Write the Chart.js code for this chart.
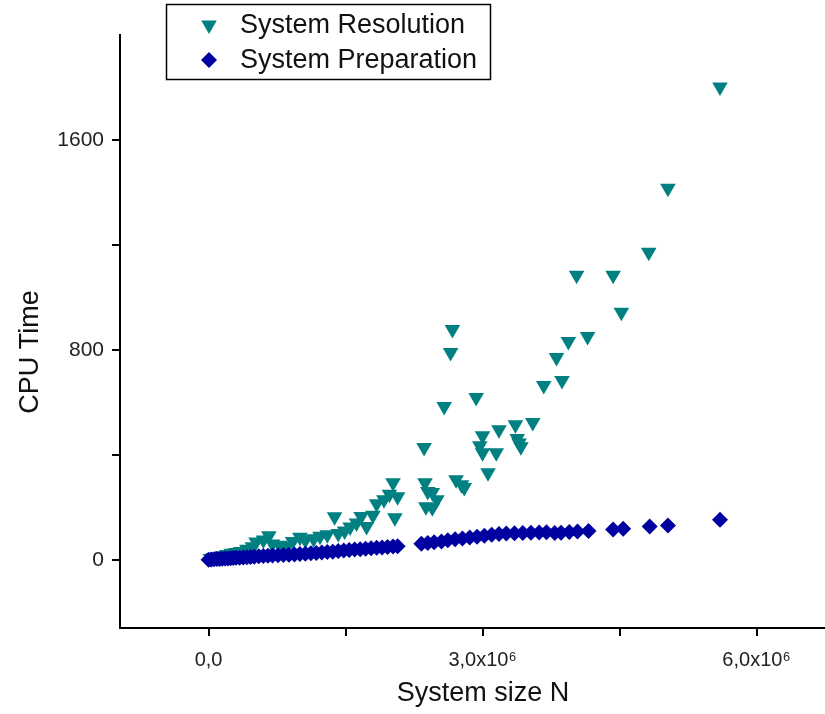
<!DOCTYPE html>
<html lang="en">

<head>
  <meta charset="UTF-8">
  <title>CPU Time vs System size</title>
  <style>
    body { margin: 0; background: #fff; overflow: hidden; }
    canvas { display: block; }
  </style>
</head>

<body>
  <canvas id="grafico1" width="825" height="714"></canvas>

  <script src="https://cdn.jsdelivr.net/npm/chart.js"></script>

  <script>
    // System Resolution (triangles)
    const resX = [0.02e6, 0.05e6, 0.10e6, 0.15e6, 0.20e6, 0.25e6, 0.30e6, 0.35e6, 0.42e6, 0.48e6,
      0.52e6, 0.60e6, 0.66e6, 0.70e6, 0.78e6, 0.85e6, 0.92e6, 1.00e6, 1.06e6, 1.15e6,
      1.22e6, 1.30e6, 1.38e6, 1.42e6, 1.49e6, 1.55e6, 1.62e6, 1.67e6, 1.73e6, 1.80e6,
      1.84e6, 1.92e6, 1.98e6, 2.02e6, 2.04e6, 2.07e6,
      2.36e6, 2.37e6, 2.40e6, 2.45e6, 2.50e6, 2.38e6, 2.45e6, 2.58e6, 2.65e6, 2.67e6,
      2.71e6, 2.77e6, 2.80e6, 2.93e6, 2.97e6, 3.00e6, 3.00e6, 3.06e6, 3.15e6, 3.18e6,
      3.36e6, 3.38e6, 3.42e6, 3.40e6, 3.55e6, 3.67e6, 3.81e6, 3.87e6, 3.94e6, 4.03e6,
      4.15e6, 4.43e6, 4.52e6, 4.82e6, 5.03e6, 5.60e6]
    const resY = [5, 8, 12, 15, 20, 25, 28, 32, 40, 50,
      68, 75, 92, 60, 55, 52, 70, 86, 75, 80,
      90, 95, 164, 100, 110, 125, 140, 165, 127, 170,
      214, 229, 250, 294, 160, 240,
      428, 294, 260, 256, 229, 202, 198, 584, 790, 878,
      305, 286, 275, 618, 435, 473, 408, 332, 408, 496,
      515, 462, 431, 445, 523, 664, 771, 683, 832, 1084,
      851, 1084, 943, 1172, 1416, 1802]

    // System Preparation (diamonds)
    const prepX = [0.00e6, 0.03e6, 0.06e6, 0.09e6, 0.12e6, 0.15e6, 0.18e6, 0.21e6, 0.24e6, 0.27e6,
      0.30e6, 0.34e6, 0.38e6, 0.42e6, 0.46e6, 0.50e6, 0.55e6, 0.60e6, 0.65e6, 0.70e6,
      0.76e6, 0.82e6, 0.88e6, 0.94e6, 1.00e6, 1.06e6, 1.12e6, 1.18e6, 1.24e6, 1.30e6,
      1.36e6, 1.42e6, 1.48e6, 1.54e6, 1.60e6, 1.66e6, 1.72e6, 1.78e6, 1.84e6, 1.90e6,
      1.96e6, 2.02e6, 2.07e6,
      2.33e6, 2.40e6, 2.47e6, 2.55e6, 2.62e6, 2.70e6, 2.78e6, 2.86e6, 2.94e6, 3.02e6,
      3.10e6, 3.18e6, 3.26e6, 3.35e6, 3.44e6, 3.53e6, 3.62e6, 3.70e6, 3.79e6, 3.86e6,
      3.95e6, 4.04e6, 4.16e6, 4.43e6, 4.54e6, 4.83e6, 5.03e6, 5.60e6]
    const prepY = [0, 1, 2, 3, 3, 4, 5, 5, 6, 7,
      8, 8, 9, 10, 11, 12, 13, 14, 15, 16,
      17, 18, 19, 20, 22, 23, 25, 26, 28, 30,
      31, 33, 35, 37, 39, 40, 42, 44, 46, 47,
      49, 51, 52,
      61, 64, 67, 70, 74, 78, 81, 85, 88, 92,
      95, 98, 100, 101, 102, 103, 104, 105, 102, 103,
      106, 108, 110, 115, 118, 127, 131, 153]

    const xTickValues = [0, 1.5e6, 3e6, 4.5e6, 6e6]
    const xTickLabels = ['0,0', '', '3,0x10⁶', '', '6,0x10⁶']
    const yTickValues = [0, 400, 800, 1200, 1600]
    const yTickLabels = ['0', '', '800', '', '1600']
    const tituloX = 'System size N'
    const tituloY = 'CPU Time'

    const corTri = '#008080'
    const corDia = '#0000a0'
    const fonte = 'Arial, "Liberation Sans", sans-serif'

    let pontos = (xs, ys) => xs.map((x, i) => ({ x: x, y: ys[i] }))

    // legenda com borda e titulos dos eixos, desenhados dentro do canvas
    const legendaBox = {
      id: 'legendaBox',
      afterDraw(chart) {
        const c = chart.ctx
        c.save()
        c.strokeStyle = '#000'
        c.lineWidth = 1.5
        c.strokeRect(166.5, 4.5, 324, 75)
        c.font = '27px ' + fonte
        c.textBaseline = 'middle'
        chart.data.datasets.forEach((ds, i) => {
          const y = i === 0 ? 25 : 60
          const x = 209
          const r = ds.pointRadius
          c.fillStyle = ds.backgroundColor
          c.beginPath()
          if (ds.pointStyle === 'triangle') {
            c.moveTo(x, y + r)
            c.lineTo(x - r * 0.866, y - r * 0.5)
            c.lineTo(x + r * 0.866, y - r * 0.5)
          } else {
            c.moveTo(x, y - r)
            c.lineTo(x + r, y)
            c.lineTo(x, y + r)
            c.lineTo(x - r, y)
          }
          c.closePath()
          c.fill()
          c.fillStyle = '#111'
          c.textAlign = 'left'
          c.fillText(ds.label, 240, y + 1)
        })

        // titulos
        c.fillStyle = '#111'
        c.font = '27px ' + fonte
        c.textAlign = 'center'
        c.fillText(tituloX, 483, 694)
        c.translate(31, 352)
        c.rotate(-Math.PI / 2)
        c.fillText(tituloY, 0, 0)
        c.restore()
      }
    }

    const ctx = document.getElementById('grafico1')

    let grafico1 = new Chart(ctx, {
      type: 'scatter',
      data: {
        datasets: [{
          label: 'System Resolution',
          data: pontos(resX, resY),
          pointStyle: 'triangle',
          rotation: 180,
          pointRadius: 9,
          backgroundColor: corTri,
          borderColor: corTri,
          borderWidth: 0,
          order: 1
        }, {
          label: 'System Preparation',
          data: pontos(prepX, prepY),
          pointStyle: 'rectRot',
          pointRadius: 8,
          backgroundColor: corDia,
          borderColor: corDia,
          borderWidth: 0,
          order: 0
        }]
      },
      options: {
        responsive: false,
        animation: false,
        layout: { autoPadding: false, padding: { top: 35, right: 0, left: 0, bottom: 0 } },
        plugins: {
          legend: { display: false },
          tooltip: { enabled: false }
        },
        scales: {
          x: {
            type: 'linear',
            min: -0.97e6,
            max: 6.75e6,
            afterBuildTicks: s => { s.ticks = xTickValues.map(v => ({ value: v })) },
            afterFit: s => {
              s.height = 86
              s.paddingLeft = 0
              s.paddingRight = 0
            },
            border: { display: true, color: '#000', width: 2 },
            grid: { drawOnChartArea: false, drawTicks: true, tickLength: 8, color: '#000', lineWidth: 2 },
            ticks: {
              autoSkip: false,
              maxRotation: 0,
              padding: 12,
              color: '#222',
              font: { family: fonte, size: 20 },
              callback: (v, i) => xTickLabels[i]
            }
          },
          y: {
            min: -260,
            max: 2000,
            afterBuildTicks: s => { s.ticks = yTickValues.map(v => ({ value: v })) },
            afterFit: s => {
              s.width = 120
              s.paddingTop = 0
              s.paddingBottom = 0
            },
            border: { display: true, color: '#000', width: 2 },
            grid: { drawOnChartArea: false, drawTicks: true, tickLength: 8, color: '#000', lineWidth: 2 },
            ticks: {
              padding: 8,
              color: '#222',
              font: { family: fonte, size: 21 },
              callback: (v, i) => yTickLabels[i]
            }
          }
        }
      },
      plugins: [legendaBox]
    })
  </script>
</body>

</html>
